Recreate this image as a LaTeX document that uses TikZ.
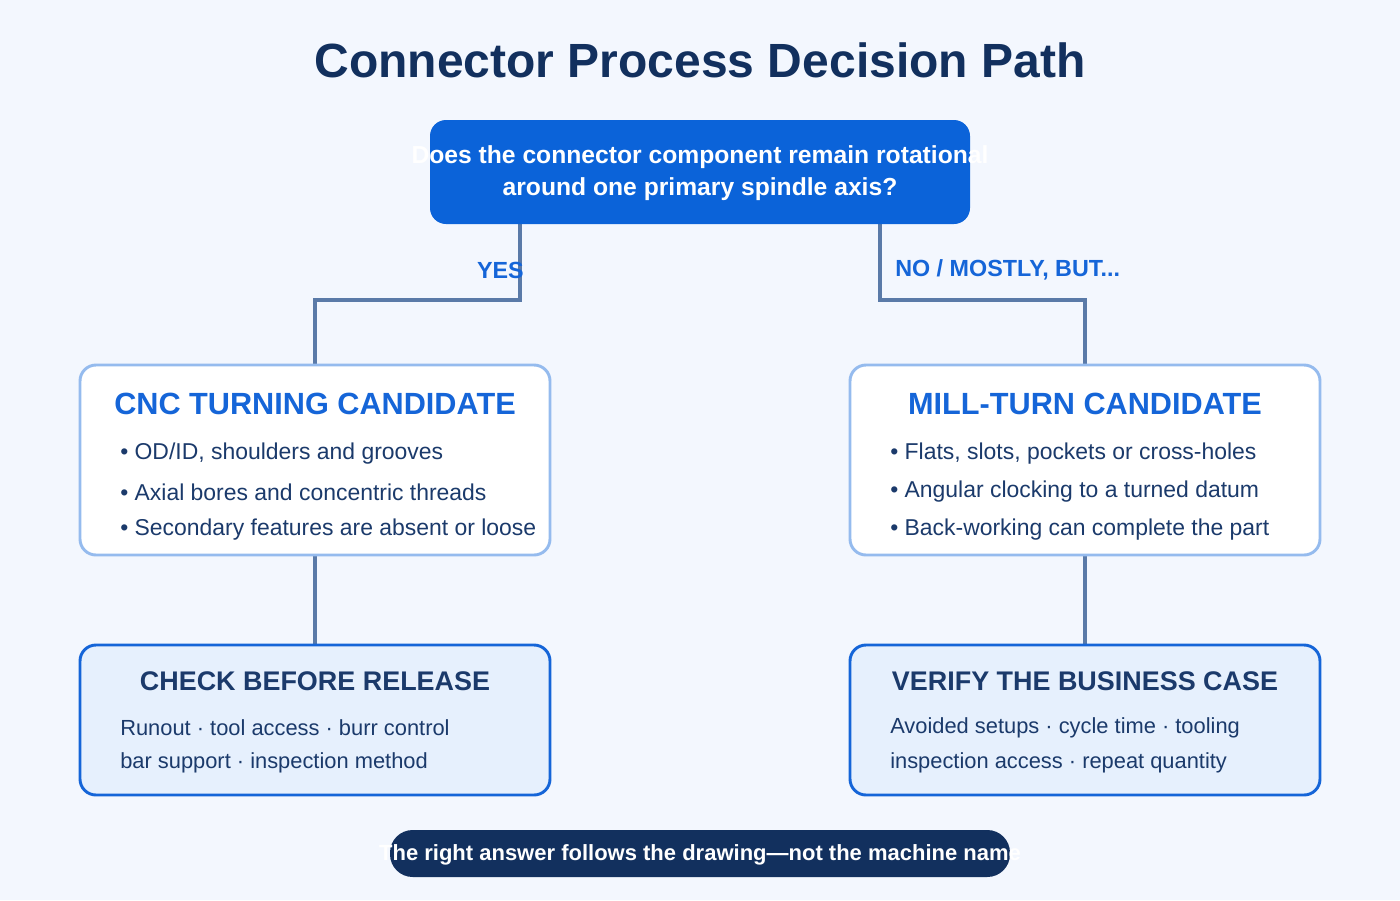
\documentclass[tikz,border=0pt]{standalone}
\usepackage{fontspec}
\setmainfont{Liberation Sans}
\definecolor{bg}{HTML}{F3F7FE}
\definecolor{qblue}{HTML}{0B63D9}
\definecolor{lblue}{HTML}{95BBEE}
\definecolor{hblue}{HTML}{1565D8}
\definecolor{dark}{HTML}{12305E}
\definecolor{txt}{HTML}{1B3A6B}
\definecolor{conn}{HTML}{5A7AA8}
\definecolor{pale}{HTML}{E6F0FD}
\begin{document}
\begin{tikzpicture}[x=0.75pt,y=-0.75pt,
  box/.style={rounded corners=12pt,line width=2.2pt},
  link/.style={conn,line width=3pt},
  bul/.style={anchor=west,text=txt,font=\fontsize{17.2}{20}\selectfont,inner sep=0},
  bul2/.style={anchor=west,text=txt,font=\fontsize{16.4}{20}\selectfont,inner sep=0},
  head/.style={font=\bfseries\fontsize{23}{26}\selectfont,text=hblue},
  head2/.style={font=\bfseries\fontsize{20.2}{24}\selectfont,text=txt},
  lab/.style={text=hblue,font=\bfseries\fontsize{17.5}{20}\selectfont,inner sep=0}]
\fill[bg] (0,0) rectangle (1400,900);
\useasboundingbox (0,0) rectangle (1400,900);
\node[font=\bfseries\fontsize{36}{40}\selectfont,text=dark] (title) at (700,60) {Connector Process Decision Path};
\draw[link] (520,224) -- (520,300) -- (315,300) -- (315,365);
\draw[link] (880,224) -- (880,300) -- (1085,300) -- (1085,365);
\draw[link] (315,555) -- (315,645);
\draw[link] (1085,555) -- (1085,645);
\fill[qblue,rounded corners=12pt] (430,120) rectangle (970,224);
\node[text=white,font=\bfseries\fontsize{18.5}{24}\selectfont,align=center] (q) at (700,173) {Does the connector component remain rotational\\around one primary spindle axis?};
\node[lab,anchor=east] (yes) at (524,270) {YES};
\node[lab,anchor=west] (no) at (895,270) {NO / MOSTLY, BUT...};
\draw[box,lblue,fill=white] (80,365) rectangle (550,555);
\draw[box,lblue,fill=white] (850,365) rectangle (1320,555);
\node[head] (h1) at (315,404) {CNC TURNING CANDIDATE};
\node[bul] (a1) at (120,454) {• OD/ID, shoulders and grooves};
\node[bul] (a2) at (120,492) {• Axial bores and concentric threads};
\node[bul] (a3) at (120,530) {• Secondary features are absent or loose};
\node[head] (h2) at (1085,404) {MILL-TURN CANDIDATE};
\node[bul] (b1) at (890,454) {• Flats, slots, pockets or cross-holes};
\node[bul] (b2) at (890,492) {• Angular clocking to a turned datum};
\node[bul] (b3) at (890,530) {• Back-working can complete the part};
\draw[box,hblue,fill=pale] (80,645) rectangle (550,795);
\draw[box,hblue,fill=pale] (850,645) rectangle (1320,795);
\node[head2] (h3) at (315,681) {CHECK BEFORE RELEASE};
\node[bul2] (c1) at (120,728) {Runout · tool access · burr control};
\node[bul2] (c2) at (120,763) {bar support · inspection method};
\node[head2] (h4) at (1085,681) {VERIFY THE BUSINESS CASE};
\node[bul2] (d1) at (890,728) {Avoided setups · cycle time · tooling};
\node[bul2] (d2) at (890,763) {inspection access · repeat quantity};
\fill[dark,rounded corners=17pt] (390,830) rectangle (1010,877);
\node[text=white,font=\bfseries\fontsize{16.5}{19}\selectfont] (f) at (700,855) {The right answer follows the drawing—not the machine name};
\end{tikzpicture}
\end{document}
